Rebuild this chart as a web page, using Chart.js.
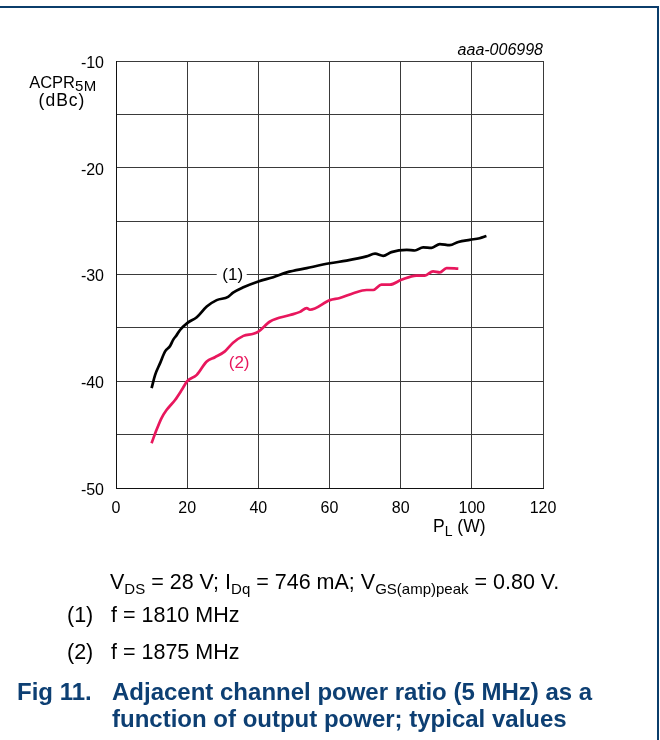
<!DOCTYPE html>
<html><head><meta charset="utf-8">
<script src="https://cdn.jsdelivr.net/npm/chart.js@4/dist/chart.umd.min.js"></script>
<style>
html,body{margin:0;padding:0;background:#fff;}
body{width:660px;height:740px;position:relative;overflow:hidden;font-family:"Liberation Sans",Arial,sans-serif;}
#c{position:absolute;left:0;top:0;}
.t{position:absolute;white-space:nowrap;color:#000;line-height:1;}
.r{font-size:21.5px;}
.sub{position:relative;top:5px;font-size:15px;}
.frame{position:absolute;left:0;top:6px;width:657px;height:740px;border-top:2px solid #0b3d6b;border-right:2px solid #0b3d6b;}
.cap{color:#0d3f73;font-weight:bold;font-size:24px;}
</style></head>
<body>
<div class="frame"></div>
<canvas id="c" width="660" height="740"></canvas>
<div class="t" style="right:117px;top:42px;font-size:16px;font-style:italic;">aaa-006998</div>
<div class="t" style="left:0;width:126px;text-align:center;top:74px;font-size:16.5px;">ACPR<span style="font-size:15px;position:relative;top:3px;letter-spacing:0.5px;">5M</span></div>
<div class="t" style="left:0;width:124px;text-align:center;top:92px;font-size:17.5px;letter-spacing:1px;">(dBc)</div>
<div class="t" style="left:433px;top:518px;font-size:17.5px;">P<span style="font-size:14px;position:relative;top:4px;">L</span> (W)</div>
<div class="t r" style="left:110px;top:572px;">V<span class="sub">DS</span> = 28 V; I<span class="sub">Dq</span> = 746 mA; V<span class="sub">GS(amp)peak</span> = 0.80 V.</div>
<div class="t r" style="left:67px;top:605px;">(1)</div>
<div class="t r" style="left:111px;top:605px;">f = 1810 MHz</div>
<div class="t r" style="left:67px;top:642px;">(2)</div>
<div class="t r" style="left:111px;top:642px;">f = 1875 MHz</div>
<div class="t cap" style="left:17px;top:680px;">Fig 11.</div>
<div class="t cap" style="left:112px;top:680px;">Adjacent channel power ratio (5 MHz) as a</div>
<div class="t cap" style="left:112px;top:707px;">function of output power; typical values</div>
<script>
// Series (1) f = 1810 MHz
const x1 = [10.0,11.0,12.4,13.8,15.2,16.1,17.0,18.0,20.0,22.7,25.5,28.3,31.5,32.9,35.8,40.0,44.2,48.0,53.6,60.1,64.8,70.4,72.8,75.1,77.4,81.7,84.0,86.3,88.7,91.0,93.8,96.2,99.4,102.2,104.1];
const y1 = [-40.65,-39.4,-38.3,-37.2,-36.7,-36.1,-35.7,-35.2,-34.55,-34.0,-33.0,-32.4,-32.1,-31.7,-31.2,-30.65,-30.25,-29.8,-29.4,-28.95,-28.7,-28.3,-28.05,-28.25,-27.9,-27.7,-27.75,-27.45,-27.5,-27.15,-27.25,-26.95,-26.75,-26.6,-26.4];
// Series (2) f = 1875 MHz
const x2 = [10.0,11.4,12.8,14.2,16.6,18.5,20.0,22.7,25.5,27.8,30.6,32.9,35.8,38.6,40.0,43.3,48.9,51.7,53.6,54.5,60.1,62.9,66.7,70.4,72.3,74.6,77.0,80.2,84.4,86.8,89.1,91.0,92.9,96.2];
const y2 = [-45.8,-44.55,-43.45,-42.7,-41.75,-40.8,-40.0,-39.4,-38.15,-37.75,-37.2,-36.4,-35.75,-35.55,-35.35,-34.4,-33.8,-33.5,-33.15,-33.3,-32.4,-32.2,-31.75,-31.45,-31.45,-30.95,-30.95,-30.5,-30.1,-30.1,-29.7,-29.8,-29.4,-29.45];
// Ticks
const xTicks = [0,20,40,60,80,100,120];
const yGrid = [-10,-15,-20,-25,-30,-35,-40,-45,-50];
const yTickLabels = ['-10','-20','-30','-40','-50'];
// Curve labels
const curveLabels = ['(1)','(2)'];
const labelX = [32.8, 34.6];
const labelY = [-30, -38.25];

const FONT = '"Liberation Sans", Arial, sans-serif';
const colors = ['#000000','#e8175d'];

const labelPlugin = {
  id:'curveLabels',
  beforeDatasetsDraw(chart){
    const ctx = chart.ctx, xs = chart.scales.x, ys = chart.scales.y;
    ctx.save();
    ctx.font = '17px ' + FONT;
    ctx.textAlign = 'center';
    ctx.textBaseline = 'middle';
    curveLabels.forEach((t,i)=>{
      const px = xs.getPixelForValue(labelX[i]);
      const py = ys.getPixelForValue(labelY[i]);
      if(i===0){ ctx.fillStyle='#fff'; ctx.fillRect(px-16, py-8, 30, 16); }
      ctx.fillStyle = colors[i];
      ctx.fillText(t, px, py+1);
    });
    ctx.restore();
  }
};

const mk = (xs, ys) => xs.map((x,i)=>({x:x, y:ys[i]}));

new Chart(document.getElementById('c'), {
  type:'scatter',
  data:{datasets:[
    {data:mk(x1,y1), showLine:true, borderColor:colors[0], borderWidth:2.7, pointRadius:0, cubicInterpolationMode:'monotone', fill:false},
    {data:mk(x2,y2), showLine:true, borderColor:colors[1], borderWidth:2.7, pointRadius:0, cubicInterpolationMode:'monotone', fill:false}
  ]},
  options:{
    responsive:false, animation:false, devicePixelRatio:1,
    layout:{padding:{left:0, top:61, right:117, bottom:0}},
    plugins:{legend:{display:false}, tooltip:{enabled:false}},
    scales:{
      x:{type:'linear', min:0, max:120,
        afterBuildTicks:s=>{s.ticks = xTicks.map(v=>({value:v}));},
        afterFit:s=>{s.height = 252;},
        grid:{color:'#3a3a3a', lineWidth:1, drawTicks:false},
        border:{color:'#111', width:1},
        ticks:{color:'#000', font:{family:FONT, size:16}, padding:11, maxRotation:0, autoSkip:false,
          callback:v=>String(v)}
      },
      y:{type:'linear', min:-50, max:-10,
        afterBuildTicks:s=>{s.ticks = yGrid.map(v=>({value:v}));},
        afterFit:s=>{s.width = 116;},
        grid:{color:'#3a3a3a', lineWidth:1, drawTicks:false},
        border:{color:'#111', width:1},
        ticks:{color:'#000', font:{family:FONT, size:16}, padding:12, labelOffset:2.5, autoSkip:false,
          callback:v=>{const s=String(v); return yTickLabels.includes(s)? s : '';}}
      }
    }
  },
  plugins:[labelPlugin]
});
</script>
</body></html>
